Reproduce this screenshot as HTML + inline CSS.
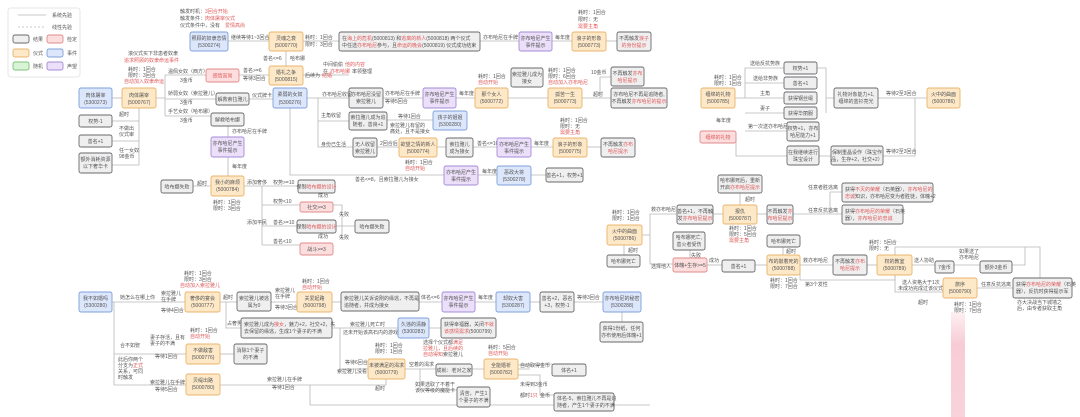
<!DOCTYPE html>
<html><head><meta charset="utf-8"><style>
html,body{margin:0;padding:0;background:#fff;}
svg{display:block;font-family:"Liberation Sans","Noto Sans CJK SC",sans-serif;}
.g{fill:#efeff0;stroke:#6a6a6e;stroke-width:.9}
.o{fill:#fde8c8;stroke:#e9b46c;stroke-width:.9}
.b{fill:#dde7fb;stroke:#7f9fd8;stroke-width:.9}
.p{fill:#ebdff9;stroke:#a68bd8;stroke-width:.9}
.r{fill:#fcdede;stroke:#e08b8b;stroke-width:.9}
.gr{fill:#d9f3d6;stroke:#7fc07a;stroke-width:.9}
text{font-size:5px;fill:#555;}
.t{text-anchor:middle;}
.red{fill:#e05a5a}
line,path.l{stroke:#b8b8b8;stroke-width:.8;fill:none}
</style></head><body>
<svg width="1080" height="417" viewBox="0 0 1080 417" xmlns="http://www.w3.org/2000/svg">
<defs><linearGradient id="pk" x1="0" y1="0" x2="0" y2="1"><stop offset="0" stop-color="#f4b6c4" stop-opacity="0.2"/><stop offset="0.3" stop-color="#f4b6c4" stop-opacity="0.7"/><stop offset="1" stop-color="#f4b6c4" stop-opacity="0.6"/></linearGradient></defs>
<!-- legend -->
<rect x="8" y="8" width="72" height="69" rx="3" fill="#fff" stroke="#e6e6e6"/>
<line x1="18" y1="15" x2="46" y2="15"/><text x="52" y="17">系统先验</text>
<line x1="18" y1="27" x2="46" y2="27" stroke-dasharray="2,2"/><text x="52" y="29">线性先验</text>
<rect class="g" x="13" y="35" width="16" height="8" rx="2"/><text x="33" y="41">结果</text>
<rect class="r" x="47" y="35" width="16" height="8" rx="2"/><text x="67" y="41">检定</text>
<rect class="o" x="13" y="49" width="16" height="8" rx="2"/><text x="33" y="55">仪式</text>
<rect class="b" x="47" y="49" width="16" height="8" rx="2"/><text x="67" y="55">事件</text>
<rect class="gr" x="13" y="62" width="16" height="8" rx="2"/><text x="33" y="68">随机</text>
<rect class="p" x="47" y="62" width="16" height="8" rx="2"/><text x="67" y="68">声望</text>

<!-- connectors -->
<g>
<line x1="112" y1="98" x2="122" y2="98"/>
<path class="l" d="M139 108 V165 H112 M139 121 H112 M139 141 H112"/>
<path class="l" d="M156 98 H165 M165 75 V116 M165 75 H206 M165 99 H216 M165 116 H211"/>
<line x1="239" y1="75" x2="269" y2="75"/>
<line x1="249" y1="99" x2="273" y2="99"/>
<line x1="228" y1="41" x2="269" y2="41"/>
<line x1="286" y1="51" x2="286" y2="66"/>
<line x1="303" y1="75" x2="349" y2="75"/>
<line x1="303" y1="41" x2="339" y2="41"/>
<line x1="480" y1="41" x2="519" y2="41"/>
<line x1="552" y1="41" x2="572" y2="41"/>
<line x1="606" y1="41" x2="617" y2="41"/>
<path class="l" d="M307 98 H318 V147 H353 M318 98 H349 M318 121 H349"/>
<line x1="383" y1="98" x2="423" y2="98"/>
<line x1="456" y1="98" x2="475" y2="98"/>
<line x1="508" y1="98" x2="548" y2="98"/>
<line x1="582" y1="98" x2="611" y2="98"/>
<path class="l" d="M600 98 V77 H611"/>
<line x1="387" y1="120" x2="433" y2="120"/>
<line x1="377" y1="147" x2="399" y2="147"/>
<line x1="437" y1="147" x2="446" y2="147"/>
<line x1="473" y1="147" x2="497" y2="147"/>
<line x1="531" y1="147" x2="553" y2="147"/>
<line x1="587" y1="147" x2="601" y2="147"/>
<path class="l" d="M290 108 V175 H444 M478 175 H497 M531 175 H546"/>
<line x1="228" y1="126" x2="228" y2="137"/>
<line x1="228" y1="157" x2="228" y2="176"/>
<line x1="211" y1="186" x2="193" y2="186"/>
<path class="l" d="M244 186 H262 V245 M262 186 H298 M262 205 H300 M262 226 H297 M262 245 H300"/>
<path class="l" d="M333 205 H342 V240 M336 226 H355"/>
<path class="l" d="M735 98 H745 V68 H784 M745 83 H784 M745 98 H784 M745 113 H784 M745 131 H787"/>
<path class="l" d="M817 68 H826 V113 M826 98 H834 M878 98 H927"/>
<path class="l" d="M736 137 V156 H787 M819 156 H831 M883 156 H915 V98"/>
<path class="l" d="M642 235 H650 V214 H677 M650 235 V264 H673"/>
<line x1="624" y1="245" x2="624" y2="255"/>
<line x1="713" y1="214" x2="723" y2="214"/>
<line x1="757" y1="214" x2="767" y2="214"/>
<path class="l" d="M793 214 H830 V192 H842 M830 214 H842"/>
<line x1="740" y1="193" x2="740" y2="205"/>
<line x1="707" y1="265" x2="722" y2="265"/>
<line x1="755" y1="265" x2="767" y2="265"/>
<line x1="690" y1="250" x2="690" y2="258"/>
<line x1="783" y1="247" x2="783" y2="255"/>
<path class="l" d="M800 265 H833 M800 265 V280 H895 V275"/>
<line x1="867" y1="265" x2="877" y2="265"/>
<line x1="912" y1="265" x2="935" y2="265"/>
<line x1="954" y1="265" x2="980" y2="265"/>
<path class="l" d="M895 255 V247 H1040 V278 M1012 265 H1025 V247"/>
<path class="l" d="M895 275 V292 H943 M977 288 H1013"/>
<path class="l" d="M112 302 H185 M114 302 V385 H186 M114 354 H186"/>
<line x1="220" y1="302" x2="237" y2="302"/>
<line x1="271" y1="302" x2="297" y2="302"/>
<line x1="332" y1="302" x2="341" y2="302"/>
<line x1="419" y1="302" x2="442" y2="302"/>
<line x1="475" y1="302" x2="496" y2="302"/>
<line x1="530" y1="302" x2="540" y2="302"/>
<line x1="574" y1="302" x2="603" y2="302"/>
<path class="l" d="M226 302 V328 H241 M332 328 H398 M429 328 H441"/>
<line x1="220" y1="354" x2="234" y2="354"/>
<path class="l" d="M340 328 V369 H368 M405 369 H436 M472 369 H484"/>
<path class="l" d="M386 379 V385 H220"/>
<path class="l" d="M420 369 V390 H457 M518 369 H530"/>
<path class="l" d="M310 385 V405 H650"/>
<line x1="622" y1="312" x2="622" y2="322"/>
<path class="l" d="M518 365 H540 V364 H552 M518 375 H540 V395 H554"/>
</g>

<rect class="b" x="79" y="88" width="33" height="20" rx="2"/><text class="t" x="95.5" y="97">肉体屠宰</text><text class="t" x="95.5" y="104">(5300273)</text>
<rect class="o" x="122" y="88" width="34" height="20" rx="2"/><text class="t" x="139" y="97">肉体屠宰</text><text class="t" x="139" y="104">(5000767)</text>
<rect class="g" x="79" y="115" width="33" height="12" rx="2"/><text class="t" x="95.5" y="123">权势-1</text>
<rect class="g" x="79" y="135" width="33" height="12" rx="2"/><text class="t" x="95.5" y="143">善名+1</text>
<rect class="g" x="79" y="153" width="33" height="20" rx="2"/><text class="t" x="95.5" y="161">额外消耗资源</text><text class="t" x="95.5" y="168">以下奢华卡</text>
<text x="128" y="55">滚仪式买下非患者奴隶</text><text class="red" x="124" y="62">追求照顾的奴隶命运事件</text>
<text x="128" y="71">耗时：1回合</text><text x="128" y="77">限时：3回合</text><text class="red" x="124" y="83">自动加入奴隶命运</text>
<text x="119" y="116">超时</text><text x="119" y="130">不做出</text><text x="119" y="136">仪式审</text><text x="119" y="152">任一女奴</text><text x="119" y="158">98金币</text>

<text x="180" y="13">触发时机：</text><text class="red" x="205" y="13">3回合开始</text>
<text x="180" y="20">触发条件：</text><text class="red" x="205" y="20">肉体屠宰仪式</text>
<text x="180" y="27">仪式条件中，没有</text><text class="red" x="225" y="27">爱情高尚</text>
<rect class="b" x="190" y="32" width="38" height="19" rx="2"/><text class="t" x="209" y="40">照顾的奴隶恋情</text><text class="t" x="209" y="47">(5300274)</text>
<text x="231" y="39">继续等待1~3回合</text>
<rect class="o" x="269" y="32" width="34" height="19" rx="2"/><text class="t" x="286" y="40">灵魂之衰</text><text class="t" x="286" y="47">(5000770)</text>
<text x="305" y="39">耗时：1回合</text><text x="305" y="46">限时：3回合</text>
<text x="263" y="60">善名&lt;=6</text><text x="290" y="60">哈布娜</text>
<rect class="r" x="206" y="69" width="33" height="13" rx="2"/><text class="t red" x="222.5" y="77.5">感情高尚</text>
<rect class="o" x="269" y="66" width="34" height="19" rx="2"/><text class="t" x="286" y="74">婚礼之争</text><text class="t" x="286" y="81">(5000815)</text>
<text x="305" y="77">后续为</text><text class="red" x="322" y="77">结婚</text>
<text x="168" y="73">温佩女奴（西方）</text><text x="180" y="82">3金币</text>
<text x="168" y="95">娇弱女奴（索拉雅儿）</text><text x="180" y="104">3金币</text>
<text x="168" y="113">手艺女奴（哈布娜）</text><text x="180" y="122">3金币</text>
<text x="243" y="72">善名&gt;=6</text><text x="243" y="80">等待3回合</text>
<rect class="g" x="216" y="93" width="33" height="12" rx="2"/><text class="t" x="232.5" y="101">解救索拉雅儿</text>
<text x="252" y="97">仪式牌卡</text>
<rect class="b" x="273" y="88" width="34" height="20" rx="2"/><text class="t" x="290" y="96">柔弱的女奴</text><text class="t" x="290" y="104">(5300276)</text>
<rect class="g" x="211" y="113" width="33" height="13" rx="2"/><text class="t" x="227.5" y="121.5">解救哈布娜</text>
<text x="232" y="133">亦布哈尼在手牌</text>
<rect class="p" x="211" y="137" width="33" height="20" rx="2"/><text class="t" x="227.5" y="145">亦布哈尼产生</text><text class="t" x="227.5" y="152">事件提示</text>
<text x="232" y="168">每年度</text>
<rect class="o" x="211" y="176" width="33" height="20" rx="2"/><text class="t" x="227.5" y="184">我小的麻烦</text><text class="t" x="227.5" y="191">(5000784)</text>
<rect class="g" x="161" y="180" width="32" height="13" rx="2"/><text class="t" x="177" y="188.5">哈布娜失败</text>
<text x="197" y="185">超时</text>
<text x="213" y="204">耗时：1回合</text><text x="213" y="210">限时：3回合</text>
<text x="247" y="184">添加奢侈</text><text x="273" y="184">权势&gt;=10</text><text x="273" y="203">权势&lt;10</text>
<text x="247" y="224">添加平民</text><text x="273" y="224">善名&gt;=10</text><text x="273" y="243">善名&lt;10</text>
<rect class="g" x="298" y="180" width="37" height="13" rx="2"/><text class="t" x="316.5" y="188.5">保制<tspan class="red">哈布娜的设计</tspan></text>
<rect class="r" x="300" y="202" width="33" height="10" rx="2"/><text class="t" x="316.5" y="209">社交&gt;=3</text>
<rect class="g" x="297" y="220" width="39" height="13" rx="2"/><text class="t" x="316.5" y="228.5">保制<tspan class="red">哈布娜的设计</tspan></text>
<rect class="r" x="300" y="243" width="33" height="12" rx="2"/><text class="t" x="316.5" y="251">战斗&gt;=3</text>
<rect class="g" x="355" y="220" width="34" height="13" rx="2"/><text class="t" x="372" y="228.5">哈布娜失败</text>
<text x="339" y="216">失败</text><text x="339" y="239">失败</text><text x="318" y="197">成功</text><text x="318" y="238">成功</text>

<rect class="g" x="339" y="32" width="141" height="19" rx="2"/><text x="342" y="40">在<tspan class="red">海上的危机</tspan>(5000813) 和<tspan class="red">逃离的新人</tspan>(5000818) 两个仪式</text><text x="342" y="47">中任选<tspan class="red">亦布哈尼</tspan>参与，且<tspan class="red">命运的晚会</tspan>(5000819) 仪式成功结束</text>
<text x="323" y="66">中间偷偷</text><text class="red" x="345" y="66">他的内容</text><text x="323" y="73">在</text><text class="red" x="330" y="73">亦布哈娜</text><text x="352" y="73">率领整理</text>
<text x="483" y="39">亦布哈尼在手牌</text>
<rect class="p" x="519" y="32" width="33" height="19" rx="2"/><text class="t" x="535.5" y="40">亦布哈尼产生</text><text class="t" x="535.5" y="47">事件提示</text>
<text x="555" y="39">每年度</text>
<text x="578" y="14">耗时：1回合</text><text x="578" y="21">限时：无</text><text class="red" x="578" y="28">需要主角</text>
<rect class="o" x="572" y="32" width="34" height="19" rx="2"/><text class="t" x="589" y="40">浪子的形象</text><text class="t" x="589" y="47">(5000773)</text>
<rect class="g" x="617" y="32" width="34" height="19" rx="2"/><text class="t" x="634" y="40">不再触发<tspan class="red">浪子</tspan></text><text class="t red" x="634" y="47">的身份提示</text>

<rect class="g" x="349" y="88" width="34" height="20" rx="2"/><text class="t" x="366" y="96">亦布哈尼没留</text><text class="t" x="366" y="103">索拉雅儿</text>
<text x="322" y="96">亦布哈尼收留</text>
<text x="385" y="95">亦布哈尼在手牌</text><text x="385" y="103">等待5回合</text>
<rect class="p" x="423" y="88" width="33" height="20" rx="2"/><text class="t" x="439.5" y="96">亦布哈尼产生</text><text class="t" x="439.5" y="103">事件提示</text>
<text x="459" y="95">每年度</text>
<text x="478" y="78">耗时：1回合</text><text class="red" x="478" y="84">自动开始</text>
<rect class="o" x="475" y="88" width="33" height="20" rx="2"/><text class="t" x="491.5" y="96">那个女人</text><text class="t" x="491.5" y="103">(5000772)</text>
<rect class="g" x="511" y="68" width="32" height="19" rx="2"/><text class="t" x="527" y="76">索拉雅儿成为</text><text class="t" x="527" y="83">接女</text>
<text x="548" y="72">耗时：1回合</text><text x="548" y="78">限时：6回合</text><text class="red" x="548" y="84">自动加入亦布哈尼</text>
<rect class="o" x="548" y="88" width="34" height="20" rx="2"/><text class="t" x="565" y="96">孤苦一生</text><text class="t" x="565" y="103">(5000773)</text>
<text x="591" y="74">10金币</text><text x="593" y="96">超时</text>
<rect class="g" x="611" y="67" width="33" height="19" rx="2"/><text class="t" x="627.5" y="75">不再触发<tspan class="red">亦布</tspan></text><text class="t red" x="627.5" y="82">哈尼提示</text>
<rect class="g" x="611" y="88" width="56" height="20" rx="2"/><text class="t" x="639" y="96">亦布哈尼不再是追随者,</text><text class="t" x="639" y="103">不再触发<tspan class="red">亦布哈尼的提示</tspan></text>
<text x="321" y="117">主角收留</text>
<rect class="g" x="349" y="112" width="38" height="18" rx="2"/><text class="t" x="368" y="119">索拉雅儿成为追</text><text class="t" x="368" y="126">随者，善良+1</text>
<text x="398" y="118">等待1回合</text><text x="390" y="127">索拉雅儿有留的</text><text x="390" y="133">痛处，且不是接女</text>
<rect class="b" x="433" y="111" width="34" height="19" rx="2"/><text class="t" x="450" y="119">孩子的姐姐</text><text class="t" x="450" y="126">(5300280)</text>
<text x="321" y="146">身份已生活</text>
<rect class="g" x="353" y="138" width="24" height="19" rx="2"/><text class="t" x="365" y="146">无人收留</text><text class="t" x="365" y="153">索拉雅儿</text>
<text x="380" y="145">2回合后</text>
<rect class="o" x="399" y="138" width="38" height="19" rx="2"/><text class="t" x="418" y="146">欲望之情的新人</text><text class="t" x="418" y="153">(5000774)</text>
<text x="405" y="164">耗时：1回合</text><text class="red" x="405" y="170">自动开始</text>
<rect class="g" x="446" y="138" width="27" height="19" rx="2"/><text class="t" x="459.5" y="146">索拉雅儿</text><text class="t" x="459.5" y="153">成为接女</text>
<text x="477" y="145">善名&lt;=10</text>
<rect class="p" x="497" y="138" width="34" height="19" rx="2"/><text class="t" x="514" y="146">亦布哈尼产生</text><text class="t" x="514" y="153">事件提示</text>
<text x="534" y="145">每年度</text>
<text x="560" y="122">耗时：1回合</text><text x="560" y="128">限时：无</text><text class="red" x="560" y="134">需要主角</text>
<rect class="o" x="553" y="138" width="34" height="19" rx="2"/><text class="t" x="570" y="146">浪子的形象</text><text class="t" x="570" y="153">(5000775)</text>
<rect class="g" x="601" y="138" width="34" height="19" rx="2"/><text class="t" x="618" y="146">不再触发<tspan class="red">亦布</tspan></text><text class="t red" x="618" y="153">哈尼提示</text>
<text x="355" y="181">善名&lt;=8，且索拉雅儿为接女</text>
<rect class="p" x="444" y="166" width="34" height="19" rx="2"/><text class="t" x="461" y="174">亦布哈尼产生</text><text class="t" x="461" y="181">事件提示</text>
<text x="482" y="173">每年度</text>
<rect class="b" x="497" y="166" width="34" height="19" rx="2"/><text class="t" x="514" y="174">恶政大将</text><text class="t" x="514" y="181">(5300278)</text>
<rect class="g" x="546" y="168" width="37" height="14" rx="2"/><text class="t" x="564.5" y="177">善名+1，权势+1</text>

<text x="714" y="79">耗时：1回合</text><text x="714" y="85">限时：1回合</text>
<rect class="o" x="701" y="88" width="34" height="20" rx="2"/><text class="t" x="718" y="96">缠绵的礼物</text><text class="t" x="718" y="103">(5000785)</text>
<text x="716" y="122">每年度</text>
<rect class="r" x="700" y="131" width="36" height="12" rx="2"/><text class="t red" x="718" y="139">缠绵的礼物</text>
<text x="750" y="65">送给反抗势族</text><text x="753" y="80">送给非势族</text><text x="760" y="95">主角</text><text x="760" y="110">妻子</text><text x="748" y="128">第一次送亦布哈尼</text>
<rect class="g" x="784" y="62" width="33" height="12" rx="2"/><text class="t" x="800.5" y="70">权势+1</text>
<rect class="g" x="784" y="77" width="33" height="12" rx="2"/><text class="t" x="800.5" y="85">善名+1</text>
<rect class="g" x="784" y="92" width="33" height="12" rx="2"/><text class="t" x="800.5" y="100">获得钢丝缎</text>
<rect class="g" x="784" y="107" width="33" height="12" rx="2"/><text class="t" x="800.5" y="115">获得华丽服</text>
<rect class="g" x="787" y="122" width="32" height="19" rx="2"/><text class="t" x="803" y="130">权势+1，亦布</text><text class="t" x="803" y="137">哈尼能力+1</text>
<rect class="g" x="834" y="88" width="44" height="20" rx="2"/><text class="t" x="856" y="96">礼物对象能力+1,</text><text class="t" x="856" y="103">缠绵的蓝衫亮光</text>
<text x="886" y="95">等待2至3回合</text>
<rect class="o" x="927" y="88" width="33" height="20" rx="2"/><text class="t" x="943.5" y="96">火中的曲面</text><text class="t" x="943.5" y="103">(5000786)</text>
<rect class="g" x="787" y="146" width="32" height="19" rx="2"/><text class="t" x="803" y="154">在我继续进行</text><text class="t" x="803" y="161">珠宝设计</text>
<rect class="g" x="831" y="146" width="52" height="19" rx="2"/><text class="t" x="857" y="154">保制重晶设作（珠宝作</text><text class="t" x="857" y="161">品，生存+2，社交+2）</text>
<text x="886" y="153">等待2至3回合</text>

<text x="612" y="214">耗时：1回合</text><text x="612" y="220">限时：1回合</text>
<rect class="o" x="607" y="225" width="35" height="20" rx="2"/><text class="t" x="624.5" y="233">火中的曲面</text><text class="t" x="624.5" y="240">(5000786)</text>
<text x="628" y="252">超时</text>
<rect class="g" x="607" y="255" width="33" height="12" rx="2"/><text class="t" x="623.5" y="263">哈布娜死亡</text>
<text x="651" y="211">救亦布哈尼</text><text x="651" y="268">选择他人</text>
<rect class="g" x="677" y="205" width="36" height="19" rx="2"/><text class="t" x="695" y="213">善名+1，不再触</text><text class="t" x="695" y="220">发<tspan class="red">亦布哈尼提示</tspan></text>
<rect class="g" x="718" y="175" width="44" height="18" rx="2"/><text class="t" x="740" y="182">哈布娜死后，重新</text><text class="t" x="740" y="189">开启<tspan class="red">亦布哈尼提示</tspan></text>
<text x="745" y="201">超时</text>
<rect class="o" x="723" y="205" width="34" height="19" rx="2"/><text class="t" x="740" y="213">报仇</text><text class="t" x="740" y="220">(5000787)</text>
<text x="729" y="230">耗时：1回合</text><text x="729" y="236">限时：5回合</text><text class="red" x="729" y="242">需要主角</text>
<rect class="g" x="767" y="205" width="26" height="19" rx="2"/><text class="t" x="780" y="213">不再触发<tspan class="red">亦</tspan></text><text class="t red" x="780" y="220">布哈尼提示</text>
<text x="808" y="189">任意者胜逃离</text><text x="808" y="212">任意反抗逃离</text>
<rect class="g" x="842" y="183" width="91" height="19" rx="2"/><text x="845" y="191">获得<tspan class="red">不灭的荣耀</tspan>（石英器），<tspan class="red">亦布哈尼的</tspan></text><text x="845" y="198"><tspan class="red">忠诚</tspan>知识，亦布哈尼变为者胜徒，体魄+2</text>
<rect class="g" x="842" y="205" width="61" height="19" rx="2"/><text x="845" y="213">获得<tspan class="red">亦布哈尼的荣耀</tspan>（石英</text><text x="845" y="220">器），<tspan class="red">亦布哈尼的忠诚</tspan></text>
<rect class="g" x="673" y="232" width="32" height="18" rx="2"/><text class="t" x="689" y="239">哈布娜死亡,</text><text class="t" x="689" y="246">善火者受伤</text>
<text x="691" y="257">失败</text>
<rect class="r" x="673" y="258" width="34" height="14" rx="2"/><text class="t" x="690" y="267">体魄+生存&gt;=5</text>
<text x="709" y="262">成功</text>
<rect class="g" x="722" y="260" width="33" height="12" rx="2"/><text class="t" x="738.5" y="268">善名+1</text>
<rect class="g" x="767" y="235" width="33" height="12" rx="2"/><text class="t" x="783.5" y="243">哈布娜死亡</text>
<text x="786" y="253">超时</text>
<rect class="o" x="767" y="255" width="33" height="20" rx="2"/><text class="t" x="783.5" y="263">布的敲着死的</text><text class="t" x="783.5" y="270">(5000788)</text>
<text x="770" y="282">耗时：1回合</text><text x="770" y="288">限时：7回合</text>
<text x="803" y="262">救亦布哈尼</text><text x="805" y="286">第3个发性</text>
<rect class="g" x="833" y="255" width="34" height="20" rx="2"/><text class="t" x="850" y="263">不再触发<tspan class="red">亦布</tspan></text><text class="t red" x="850" y="270">哈尼提示</text>
<text x="869" y="244">耗时：5回合</text><text x="869" y="250">限时：无</text>
<rect class="o" x="877" y="255" width="35" height="20" rx="2"/><text class="t" x="894.5" y="263">权的教室</text><text class="t" x="894.5" y="270">(5000789)</text>
<text x="914" y="262">送人协助</text>
<rect class="g" x="935" y="261" width="19" height="12" rx="2"/><text class="t" x="944.5" y="269">7金币</text>
<text x="959" y="253">如果送了</text><text x="959" y="259">亦布哈尼</text>
<rect class="g" x="980" y="261" width="32" height="12" rx="2"/><text class="t" x="996" y="269">额外3金币</text>
<text x="902" y="284">送人资格大于1次</text><text x="898" y="290">未成功完成过该仪式</text><text x="918" y="304">超时</text>
<rect class="o" x="943" y="278" width="34" height="20" rx="2"/><text class="t" x="960" y="286">旅序</text><text class="t" x="960" y="293">(5000790)</text>
<text x="954" y="306">耗时：1回合</text><text x="954" y="312">限时：7回合</text>
<text x="981" y="286">任意反抗逃离</text>
<rect class="g" x="1013" y="278" width="59" height="20" rx="2"/><text x="1016" y="286">获得<tspan class="red">亦布哈尼的荣耀</tspan>（石英</text><text x="1016" y="293">器），反抗时获得提示军</text>
<text x="1017" y="304">亦大决战当下城墙之</text><text x="1017" y="310">后，由专者获取主角</text>
<rect x="951" y="312" width="14" height="105" fill="url(#pk)"/>

<rect class="b" x="79" y="292" width="33" height="20" rx="2"/><text class="t" x="95.5" y="300">我不如婚吗</text><text class="t" x="95.5" y="307">(5300280)</text>
<text x="120" y="299">她怎么在哪上你</text>
<text x="161" y="295">索拉雅儿</text><text x="161" y="301">在手牌</text><text x="161" y="312">等待4回合</text>
<text x="184" y="275">耗时：1回合</text><text x="184" y="281">限时：3回合</text><text class="red" x="180" y="287">自动加入索拉雅儿</text>
<rect class="o" x="185" y="292" width="35" height="20" rx="2"/><text class="t" x="202.5" y="300">奢侈的宴会</text><text class="t" x="202.5" y="307">(5000777)</text>
<text x="223" y="299">超时</text>
<rect class="g" x="237" y="292" width="34" height="19" rx="2"/><text class="t" x="254" y="300">索拉雅儿被逃</text><text class="t" x="254" y="307">属为0</text>
<text x="275" y="292">索拉雅儿</text><text x="275" y="298">在手牌</text><text x="275" y="309">等待3回合</text>
<text x="302" y="283">耗时：1回合</text><text class="red" x="302" y="289">自动开始</text>
<rect class="o" x="297" y="292" width="35" height="20" rx="2"/><text class="t" x="314.5" y="300">关爱起路</text><text class="t" x="314.5" y="307">(5000798)</text>
<rect class="g" x="341" y="292" width="78" height="19" rx="2"/><text x="344" y="300">索拉雅儿关诉说刚的缘逃，不再是</text><text x="344" y="307">追随者，并成为接女</text>
<text x="421" y="299">体名&lt;=6</text>
<rect class="p" x="442" y="292" width="33" height="20" rx="2"/><text class="t" x="458.5" y="300">亦布哈尼产生</text><text class="t" x="458.5" y="307">事件提示</text>
<text x="478" y="299">每年度</text>
<rect class="b" x="496" y="292" width="34" height="20" rx="2"/><text class="t" x="513" y="300">却奴大害</text><text class="t" x="513" y="307">(5300287)</text>
<rect class="g" x="540" y="292" width="34" height="20" rx="2"/><text class="t" x="557" y="300">善名+2，恶名</text><text class="t" x="557" y="307">+3，权势-1</text>
<text x="577" y="299">等待3回合</text>
<rect class="b" x="603" y="292" width="38" height="20" rx="2"/><text class="t" x="622" y="300">亦布哈尼的秘密</text><text class="t" x="622" y="307">(5300288)</text>
<rect class="g" x="600" y="322" width="43" height="20" rx="2"/><text class="t" x="621.5" y="330">获得1份纸，任何</text><text class="t" x="621.5" y="337">亦布使用后体魄+1</text>
<text x="227" y="325">占奢男</text>
<rect class="g" x="241" y="318" width="91" height="20" rx="2"/><text x="244" y="326">索拉雅儿成为<tspan class="red">接女</tspan>，魅力+2，社交+2，失</text><text x="244" y="333">去保留的缘逃，生成1个妻子的不满</text>
<text x="350" y="326">索拉雅儿死亡时</text><text x="343" y="334">还未开始该高石内的游戏</text>
<rect class="b" x="398" y="318" width="31" height="20" rx="2"/><text class="t" x="413.5" y="326">久违的清静</text><text class="t" x="413.5" y="333">(5300283)</text>
<rect class="g" x="441" y="318" width="55" height="20" rx="2"/><text x="444" y="326">获得幸福器，关闭<tspan class="red">不就</tspan></text><text x="444" y="333"><tspan class="red">该感情需求</tspan>(5000799)</text>
<text x="120" y="347">合不如娶</text>
<text x="150" y="339">妻子存活，且有</text><text x="150" y="345">妻子的不满</text><text x="155" y="358">等待1回合</text>
<text x="190" y="332">耗时：1回合</text><text class="red" x="190" y="338">自动开始</text>
<rect class="o" x="186" y="344" width="34" height="20" rx="2"/><text class="t" x="203" y="352">不做敌害</text><text class="t" x="203" y="359">(5000776)</text>
<rect class="g" x="234" y="344" width="33" height="20" rx="2"/><text class="t" x="250.5" y="352">消除1个妻子</text><text class="t" x="250.5" y="359">的不满</text>
<text x="118" y="361">此后你两个</text><text x="118" y="367">分支为<tspan class="red">正式</tspan></text><text x="118" y="373">关系，可同</text><text x="118" y="379">时触发</text>
<text x="150" y="384">索拉雅儿在手牌</text><text x="155" y="391">等待5回合</text>
<rect class="o" x="186" y="374" width="34" height="21" rx="2"/><text class="t" x="203" y="382">贝缇出路</text><text class="t" x="203" y="389">(5000780)</text>
<text x="267" y="381">索拉雅儿在手牌</text><text x="272" y="389">等待1回合</text>
<text x="345" y="364">等待6回合</text><text x="337" y="373">索拉雅儿没看</text>
<text x="375" y="347">耗时：1回合</text><text x="375" y="353">限时：1回合</text>
<rect class="o" x="368" y="359" width="37" height="20" rx="2"/><text class="t" x="386.5" y="367">未被满足的渴求</text><text class="t" x="386.5" y="374">(5000779)</text>
<text x="375" y="390">超时</text>
<text x="409" y="366">空着的渴求</text>
<text x="423" y="344">选择个仪式都<tspan class="red">满足</tspan></text><text class="red" x="423" y="350">拉雅儿，且后续的</text><text class="red" x="423" y="356">自动得知</text><text x="443" y="356">索拉雅儿</text>
<rect class="g" x="436" y="364" width="36" height="12" rx="2"/><text class="t" x="454" y="372">成就：老对之家</text>
<text x="415" y="386">如果选取了不着干</text><text x="415" y="392">该仪等级的魔能卡</text>
<rect class="g" x="457" y="387" width="33" height="20" rx="2"/><text class="t" x="473.5" y="395">清苦，产生1</text><text class="t" x="473.5" y="402">个妻子的不满</text>
<text x="488" y="349">耗时：5回合</text><text class="red" x="488" y="355">自动开始</text>
<rect class="o" x="484" y="359" width="34" height="20" rx="2"/><text class="t" x="501" y="367">全能婚祈</text><text class="t" x="501" y="374">(5000782)</text>
<text x="520" y="367">自动取得金币</text>
<rect class="g" x="552" y="364" width="34" height="12" rx="2"/><text class="t" x="569" y="372">体名+1</text>
<text x="520" y="386">未得到3金币</text><text x="520" y="397">都时</text><text class="red" x="530" y="397">1只</text><text x="540" y="397">金币</text>
<rect class="g" x="554" y="393" width="60" height="18" rx="2"/><text x="557" y="400">体名-5，索拉雅儿不再是追</text><text x="557" y="407">随者，产生1个妻子的不满</text>
</svg>
</body></html>
